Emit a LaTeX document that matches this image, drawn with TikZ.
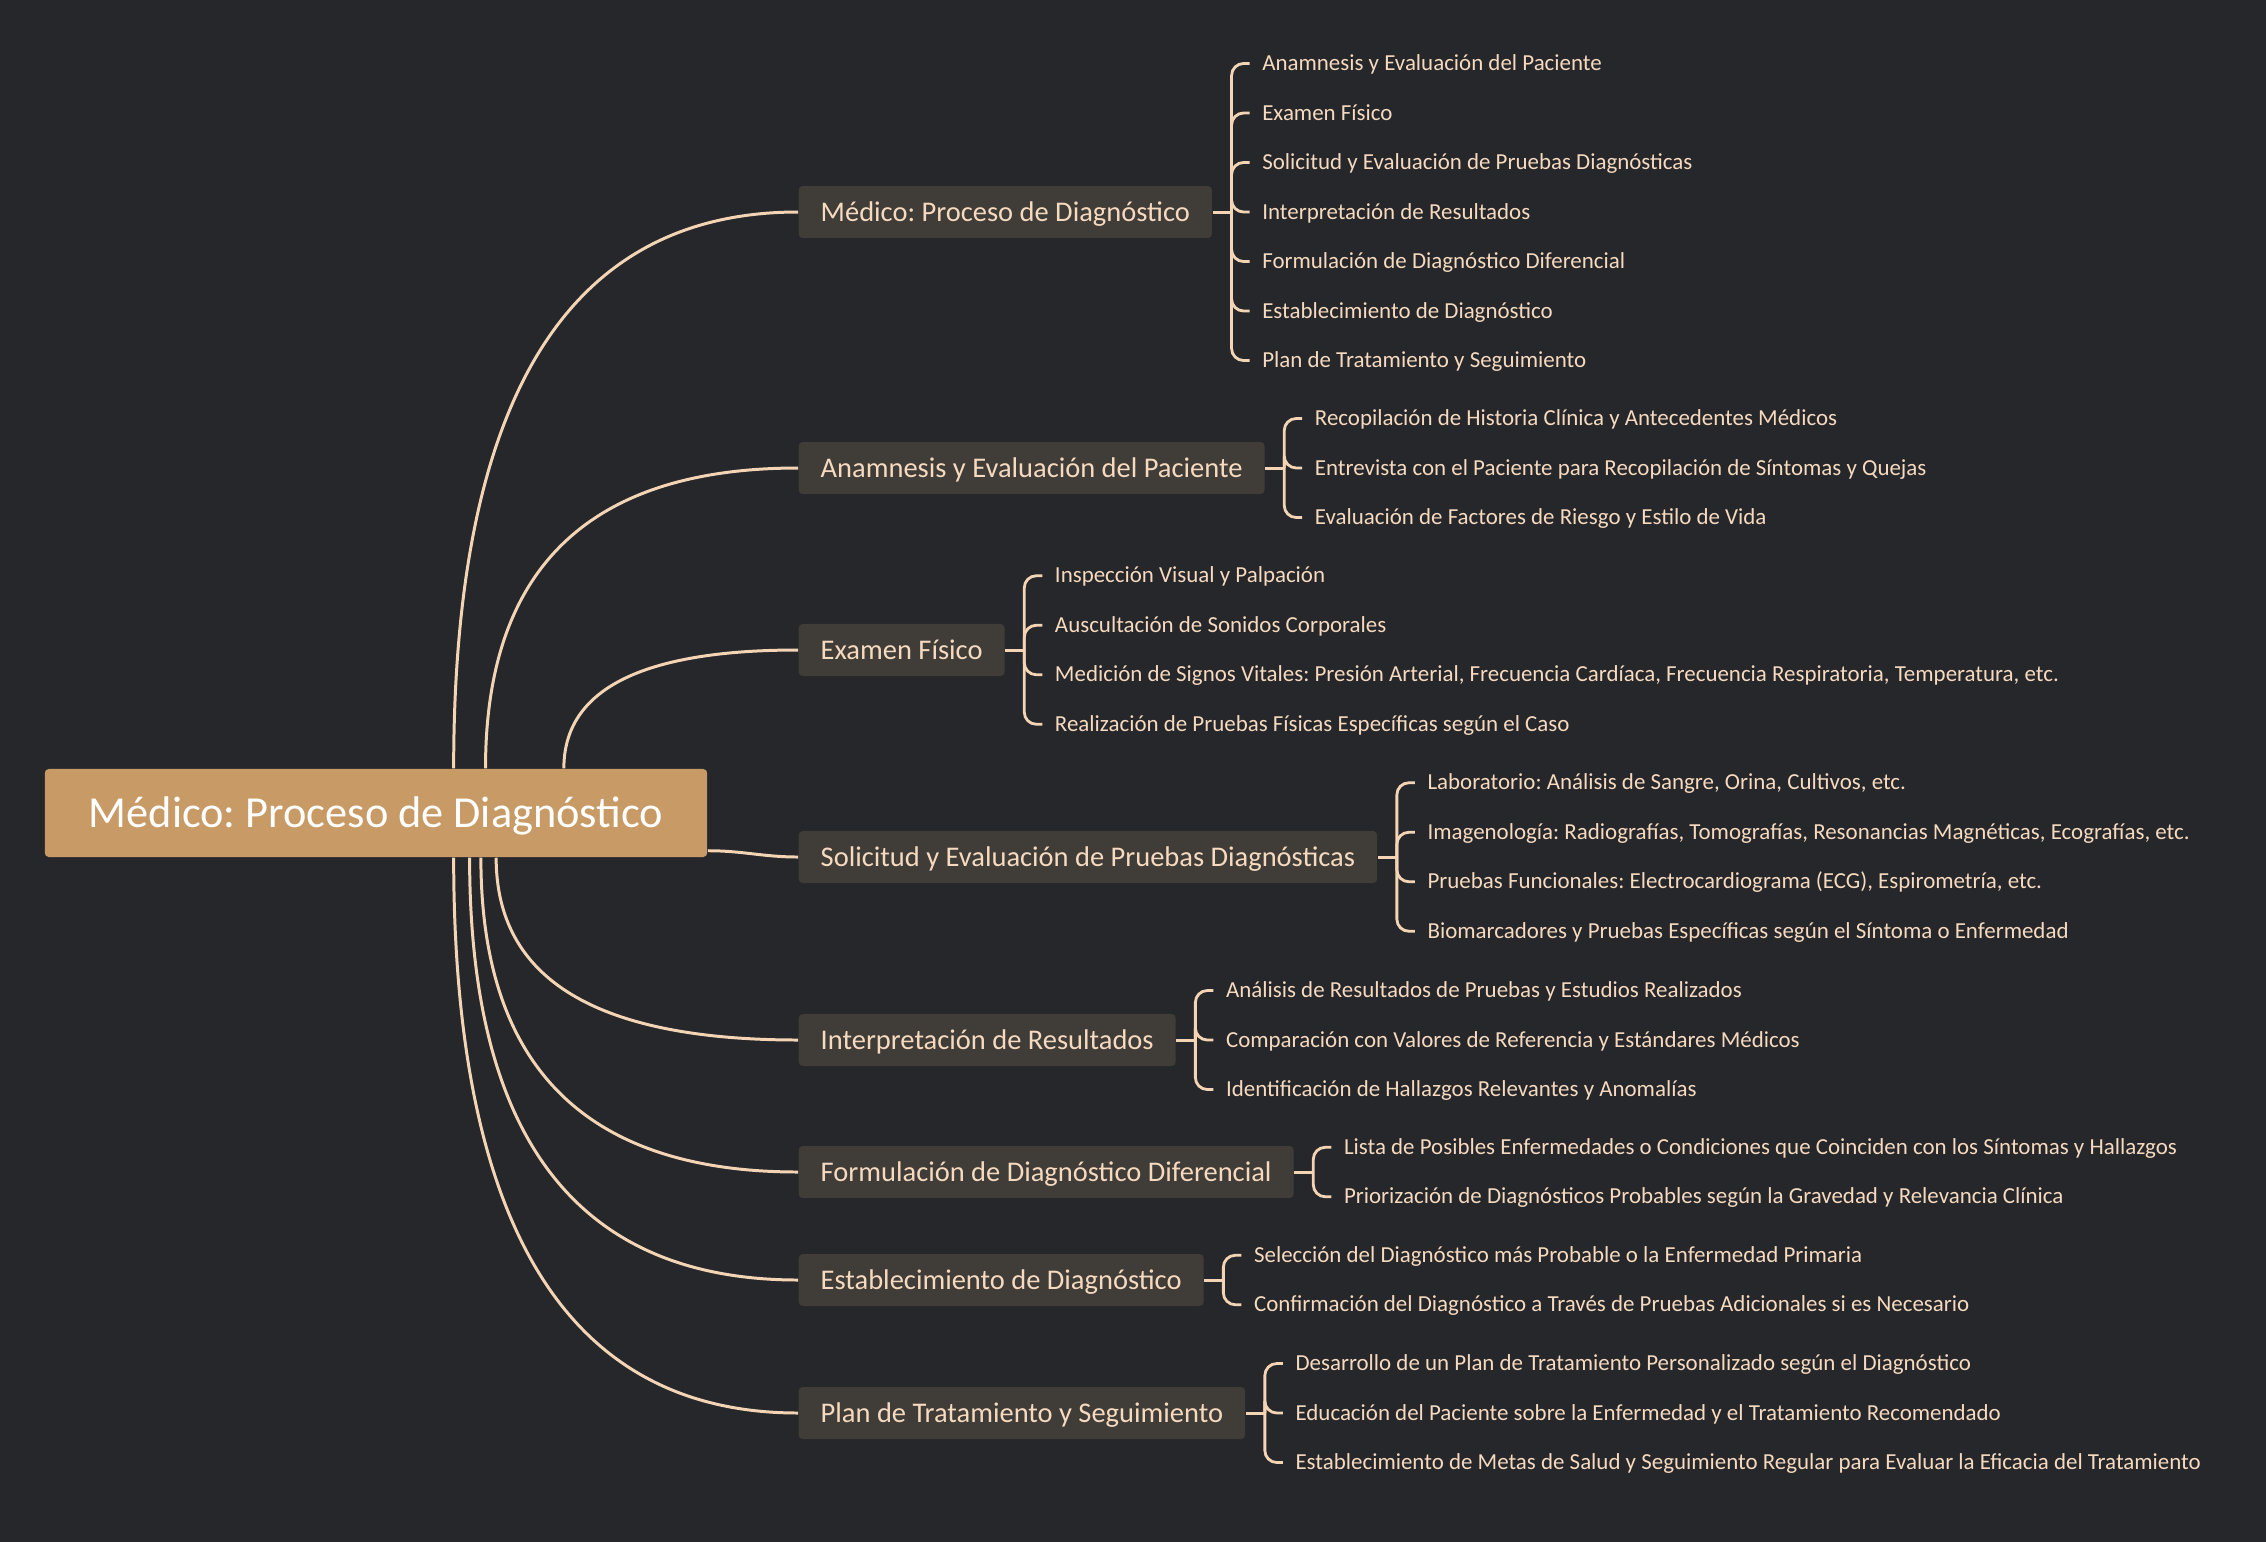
\documentclass[tikz,border=0pt]{standalone}
\usepackage{fontspec}
\setmainfont{Carlito}
\usetikzlibrary{calc}
\frenchspacing
\definecolor{bgdark}{HTML}{26272A}
\definecolor{rootfill}{HTML}{C89A66}
\definecolor{topicfill}{HTML}{403D38}
\definecolor{peach}{HTML}{F6DAC0}
\definecolor{linepeach}{HTML}{F3D4B4}
\tikzstyle{rootnode} = [fill=rootfill, text=white, rounded corners=0.04cm, minimum width=6.62cm, minimum height=0.88cm, inner sep=0pt, text height=8pt, text depth=0pt, font=\fontsize{12.6}{14}\selectfont]
\tikzstyle{topic} = [fill=topicfill, text=peach, rounded corners=0.04cm, minimum height=0.52cm, inner xsep=0.22cm, inner ysep=0pt, text height=5.2pt, text depth=0pt, anchor=west, font=\fontsize{8.1}{10}\selectfont]
\tikzstyle{leaf} = [text=peach, inner xsep=0.12cm, inner ysep=0pt, text height=4.1pt, text depth=0pt, anchor=west, font=\fontsize{6.52}{8}\selectfont]
\tikzstyle{branch} = [linepeach, line width=0.85pt]
\tikzstyle{brace} = [linepeach, line width=0.8pt, rounded corners=0.12cm]

\begin{document}
\begin{tikzpicture}[x=0.01cm, y=-0.01cm]

\useasboundingbox[fill=bgdark] (0,0) rectangle (2266,1542);

% central topic
\node[rootnode] (root) at (376,813) {Médico: Proceso de Diagnóstico};

% main topics
\node[topic] (t1) at (798,212) {Médico: Proceso de Diagnóstico};
\node[topic] (t2) at (798,468) {Anamnesis y Evaluación del Paciente};
\node[topic] (t3) at (798,650) {Examen Físico};
\node[topic] (t4) at (798,857) {Solicitud y Evaluación de Pruebas Diagnósticas};
\node[topic] (t5) at (798,1040) {Interpretación de Resultados};
\node[topic] (t6) at (798,1172) {Formulación de Diagnóstico Diferencial};
\node[topic] (t7) at (798,1280) {Establecimiento de Diagnóstico};
\node[topic] (t8) at (798,1413) {Plan de Tratamiento y Seguimiento};

% where the curves leave the central topic
\coordinate (s1) at ($(root.north west)!0.617!(root.north east)$);
\coordinate (s2) at ($(root.north west)!0.665!(root.north east)$);
\coordinate (s3) at ($(root.north west)!0.783!(root.north east)$);
\coordinate (s4) at ($(root.south east)+(0,-7)$);
\coordinate (s5) at ($(root.south west)!0.681!(root.south east)$);
\coordinate (s6) at ($(root.south west)!0.658!(root.south east)$);
\coordinate (s7) at ($(root.south west)!0.641!(root.south east)$);
\coordinate (s8) at ($(root.south west)!0.617!(root.south east)$);

\draw[branch] (s1) .. controls ($(s1)!0.667!(s1 |- t1.west)$) and ($(t1.west)!0.667!(s1 |- t1.west)$) .. (t1.west);
\draw[branch] (s2) .. controls ($(s2)!0.667!(s2 |- t2.west)$) and ($(t2.west)!0.667!(s2 |- t2.west)$) .. (t2.west);
\draw[branch] (s3) .. controls ($(s3)!0.667!(s3 |- t3.west)$) and ($(t3.west)!0.667!(s3 |- t3.west)$) .. (t3.west);
\draw[branch] (s4) to[out=0, in=180] (t4.west);
\draw[branch] (s5) .. controls ($(s5)!0.667!(s5 |- t5.west)$) and ($(t5.west)!0.667!(s5 |- t5.west)$) .. (t5.west);
\draw[branch] (s6) .. controls ($(s6)!0.667!(s6 |- t6.west)$) and ($(t6.west)!0.667!(s6 |- t6.west)$) .. (t6.west);
\draw[branch] (s7) .. controls ($(s7)!0.667!(s7 |- t7.west)$) and ($(t7.west)!0.667!(s7 |- t7.west)$) .. (t7.west);
\draw[branch] (s8) .. controls ($(s8)!0.667!(s8 |- t8.west)$) and ($(t8.west)!0.667!(s8 |- t8.west)$) .. (t8.west);

% brace joints
\coordinate (j1) at ($(t1.east)+(19,0)$);
\coordinate (j2) at ($(t2.east)+(19,0)$);
\coordinate (j3) at ($(t3.east)+(19,0)$);
\coordinate (j4) at ($(t4.east)+(19,0)$);
\coordinate (j5) at ($(t5.east)+(19,0)$);
\coordinate (j6) at ($(t6.east)+(19,0)$);
\coordinate (j7) at ($(t7.east)+(19,0)$);
\coordinate (j8) at ($(t8.east)+(19,0)$);

% subtopics
\node[leaf] (l1a) at ($(j1)+(18,-148.5)$) {Anamnesis y Evaluación del Paciente};
\node[leaf] (l1b) at ($(j1)+(18,-99)$) {Examen Físico};
\node[leaf] (l1c) at ($(j1)+(18,-49.5)$) {Solicitud y Evaluación de Pruebas Diagnósticas};
\node[leaf] (l1d) at ($(j1)+(18,0)$) {Interpretación de Resultados};
\node[leaf] (l1e) at ($(j1)+(18,49.5)$) {Formulación de Diagnóstico Diferencial};
\node[leaf] (l1f) at ($(j1)+(18,99)$) {Establecimiento de Diagnóstico};
\node[leaf] (l1g) at ($(j1)+(18,148.5)$) {Plan de Tratamiento y Seguimiento};

\node[leaf] (l2a) at ($(j2)+(18,-49.5)$) {Recopilación de Historia Clínica y Antecedentes Médicos};
\node[leaf] (l2b) at ($(j2)+(18,0)$) {Entrevista con el Paciente para Recopilación de Síntomas y Quejas};
\node[leaf] (l2c) at ($(j2)+(18,49.5)$) {Evaluación de Factores de Riesgo y Estilo de Vida};

\node[leaf] (l3a) at ($(j3)+(18,-74.25)$) {Inspección Visual y Palpación};
\node[leaf] (l3b) at ($(j3)+(18,-24.75)$) {Auscultación de Sonidos Corporales};
\node[leaf] (l3c) at ($(j3)+(18,24.75)$) {Medición de Signos Vitales: Presión Arterial, Frecuencia Cardíaca, Frecuencia Respiratoria, Temperatura, etc.};
\node[leaf] (l3d) at ($(j3)+(18,74.25)$) {Realización de Pruebas Físicas Específicas según el Caso};

\node[leaf] (l4a) at ($(j4)+(18,-74.25)$) {Laboratorio: Análisis de Sangre, Orina, Cultivos, etc.};
\node[leaf] (l4b) at ($(j4)+(18,-24.75)$) {Imagenología: Radiografías, Tomografías, Resonancias Magnéticas, Ecografías, etc.};
\node[leaf] (l4c) at ($(j4)+(18,24.75)$) {Pruebas Funcionales: Electrocardiograma (ECG), Espirometría, etc.};
\node[leaf] (l4d) at ($(j4)+(18,74.25)$) {Biomarcadores y Pruebas Específicas según el Síntoma o Enfermedad};

\node[leaf] (l5a) at ($(j5)+(18,-49.5)$) {Análisis de Resultados de Pruebas y Estudios Realizados};
\node[leaf] (l5b) at ($(j5)+(18,0)$) {Comparación con Valores de Referencia y Estándares Médicos};
\node[leaf] (l5c) at ($(j5)+(18,49.5)$) {Identificación de Hallazgos Relevantes y Anomalías};

\node[leaf] (l6a) at ($(j6)+(18,-24.75)$) {Lista de Posibles Enfermedades o Condiciones que Coinciden con los Síntomas y Hallazgos};
\node[leaf] (l6b) at ($(j6)+(18,24.75)$) {Priorización de Diagnósticos Probables según la Gravedad y Relevancia Clínica};

\node[leaf] (l7a) at ($(j7)+(18,-24.75)$) {Selección del Diagnóstico más Probable o la Enfermedad Primaria};
\node[leaf] (l7b) at ($(j7)+(18,24.75)$) {Confirmación del Diagnóstico a Través de Pruebas Adicionales si es Necesario};

\node[leaf] (l8a) at ($(j8)+(18,-49.5)$) {Desarrollo de un Plan de Tratamiento Personalizado según el Diagnóstico};
\node[leaf] (l8b) at ($(j8)+(18,0)$) {Educación del Paciente sobre la Enfermedad y el Tratamiento Recomendado};
\node[leaf] (l8c) at ($(j8)+(18,49.5)$) {Establecimiento de Metas de Salud y Seguimiento Regular para Evaluar la Eficacia del Tratamiento};

% braces
\draw[branch] (t1.east) -- (j1);
\draw[brace] (j1) |- (l1a.west);
\draw[brace] (j1) |- (l1b.west);
\draw[brace] (j1) |- (l1c.west);
\draw[brace] (j1) |- (l1d.west);
\draw[brace] (j1) |- (l1e.west);
\draw[brace] (j1) |- (l1f.west);
\draw[brace] (j1) |- (l1g.west);

\draw[branch] (t2.east) -- (j2);
\draw[brace] (j2) |- (l2a.west);
\draw[brace] (j2) |- (l2b.west);
\draw[brace] (j2) |- (l2c.west);

\draw[branch] (t3.east) -- (j3);
\draw[brace] (j3) |- (l3a.west);
\draw[brace] (j3) |- (l3b.west);
\draw[brace] (j3) |- (l3c.west);
\draw[brace] (j3) |- (l3d.west);

\draw[branch] (t4.east) -- (j4);
\draw[brace] (j4) |- (l4a.west);
\draw[brace] (j4) |- (l4b.west);
\draw[brace] (j4) |- (l4c.west);
\draw[brace] (j4) |- (l4d.west);

\draw[branch] (t5.east) -- (j5);
\draw[brace] (j5) |- (l5a.west);
\draw[brace] (j5) |- (l5b.west);
\draw[brace] (j5) |- (l5c.west);

\draw[branch] (t6.east) -- (j6);
\draw[brace] (j6) |- (l6a.west);
\draw[brace] (j6) |- (l6b.west);

\draw[branch] (t7.east) -- (j7);
\draw[brace] (j7) |- (l7a.west);
\draw[brace] (j7) |- (l7b.west);

\draw[branch] (t8.east) -- (j8);
\draw[brace] (j8) |- (l8a.west);
\draw[brace] (j8) |- (l8b.west);
\draw[brace] (j8) |- (l8c.west);

\end{tikzpicture}
\end{document}
